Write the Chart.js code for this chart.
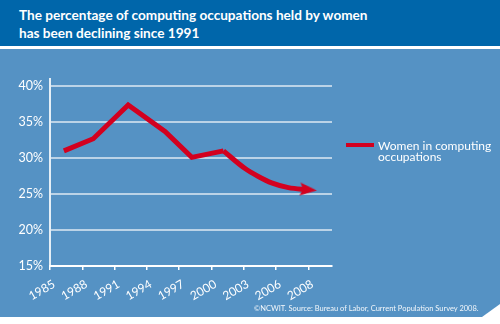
<!DOCTYPE html>
<html>
<head>
<meta charset="utf-8">
<script src="https://cdn.jsdelivr.net/npm/chart.js@4.4.0/dist/chart.umd.min.js"></script>
<style>
html,body{margin:0;padding:0;width:500px;height:324px;overflow:hidden;background:#fff;font-family:Lato,'Open Sans',sans-serif;}
#head{position:absolute;left:0;top:0;width:500px;height:46px;background:#0066aa;}
#title{position:absolute;left:19px;top:7px;color:#fff;font-weight:bold;font-size:13.6px;line-height:17.6px;white-space:nowrap;}
#panel{position:absolute;left:0;top:49px;width:500px;height:268px;background:#5592c4;clip-path:polygon(0 0,500px 0,500px 255px,482px 268px,0 268px);}
#c{position:absolute;left:0;top:0;}
#legLine{position:absolute;left:346px;top:143px;width:28px;height:4px;background:#d3001f;}
#legText{position:absolute;left:378px;top:139.6px;color:#fff;font-size:12px;line-height:11.5px;white-space:nowrap;}
#note{position:absolute;left:254px;top:305px;color:rgba(255,255,255,0.92);font-size:7.5px;line-height:8px;white-space:nowrap;}
</style>
</head>
<body>
<div id="head"><div id="title">The percentage of computing occupations held by women<br>has been declining since 1991</div></div>
<div id="panel"></div>
<canvas id="c" width="500" height="324"></canvas>
<div id="legLine"></div>
<div id="legText"></div>
<div id="note">©NCWIT. Source: Bureau of Labor, Current Population Survey 2008.</div>
<script>
// ---- data ----
const yearLabels = ['1985','1988','1991','1994','1997','2000','2003','2006','2008'];
const percentTicks = [15, 20, 25, 30, 35, 40];
// position along the year axis (in label-step units) and share of women (%)
const periodMain = [0.43, 1.34, 2.42, 3.56, 4.39, 5.37];
const shareMain  = [31.0, 32.7, 37.4, 33.7, 30.1, 31.0];
const periodTail = [5.37, 6.04, 6.45, 6.86, 7.38, 8.0];
const shareTail  = [31.0, 28.55, 27.45, 26.56, 25.9, 25.6];
const seriesName = ['Women in computing', 'occupations'];

const RED = '#d3001f';
document.getElementById('legText').innerHTML = seriesName.join('<br>');

function makeArrow() {
  const cv = document.createElement('canvas');
  cv.width = 17; cv.height = 13;
  const g = cv.getContext('2d');
  g.fillStyle = RED;
  g.beginPath();
  g.moveTo(0, 0); g.lineTo(17, 6.5); g.lineTo(0, 13); g.lineTo(3, 6.5); g.closePath();
  g.fill();
  return cv;
}

function draw() {
  const arrow = makeArrow();
  Chart.defaults.font.family = 'Lato';
  const lastTail = periodTail.length - 1;
  new Chart(document.getElementById('c'), {
    type: 'line',
    data: {
      datasets: [
        {
          label: seriesName.join(' '),
          data: periodMain.map((x, i) => ({x, y: shareMain[i]})),
          borderColor: RED, borderWidth: 5, tension: 0,
          borderJoinStyle: 'miter', borderCapStyle: 'butt',
          pointRadius: 0
        },
        {
          label: 'tail',
          data: periodTail.map((x, i) => ({x, y: shareTail[i]})),
          borderColor: RED, borderWidth: 5,
          cubicInterpolationMode: 'monotone',
          borderJoinStyle: 'round', borderCapStyle: 'butt',
          pointRadius: c => c.dataIndex === lastTail ? 8 : 0,
          pointStyle: c => c.dataIndex === lastTail ? arrow : 'circle',
          pointRotation: 5,
          backgroundColor: RED, pointBorderWidth: 0
        }
      ]
    },
    options: {
      responsive: false, animation: false, events: [],
      layout: {padding: {top: 79, left: 0, right: 168, bottom: 0}},
      plugins: {legend: {display: false}, tooltip: {enabled: false}},
      scales: {
        x: {
          type: 'linear', min: 0, max: 8.73,
          afterBuildTicks: s => { s.ticks = yearLabels.map((_, i) => ({value: i})); },
          afterFit: s => { s.height = 58; },
          ticks: {
            callback: v => yearLabels[v], color: '#fff', font: {size: 12},
            maxRotation: 30, minRotation: 30, padding: 7, labelOffset: 4, autoSkip: false
          },
          grid: {drawOnChartArea: false, drawTicks: true, tickLength: 4, color: '#fff', lineWidth: 1.5},
          border: {display: true, color: '#fff', width: 2}
        },
        y: {
          min: 15, max: 41,
          afterBuildTicks: s => { s.ticks = percentTicks.map(v => ({value: v})); },
          afterFit: s => { s.width = 50; },
          ticks: {callback: v => v + '%', color: '#fff', font: {size: 12.5}, padding: 7},
          grid: {drawTicks: false, color: 'rgba(255,255,255,0.6)', lineWidth: 2},
          border: {display: true, color: 'rgba(255,255,255,0.85)', width: 2}
        }
      }
    }
  });
}
if (document.fonts && document.fonts.load) {
  Promise.all([document.fonts.load('12px Lato'), document.fonts.load('bold 13px Lato')]).then(draw, draw);
} else { draw(); }
</script>
</body>
</html>
